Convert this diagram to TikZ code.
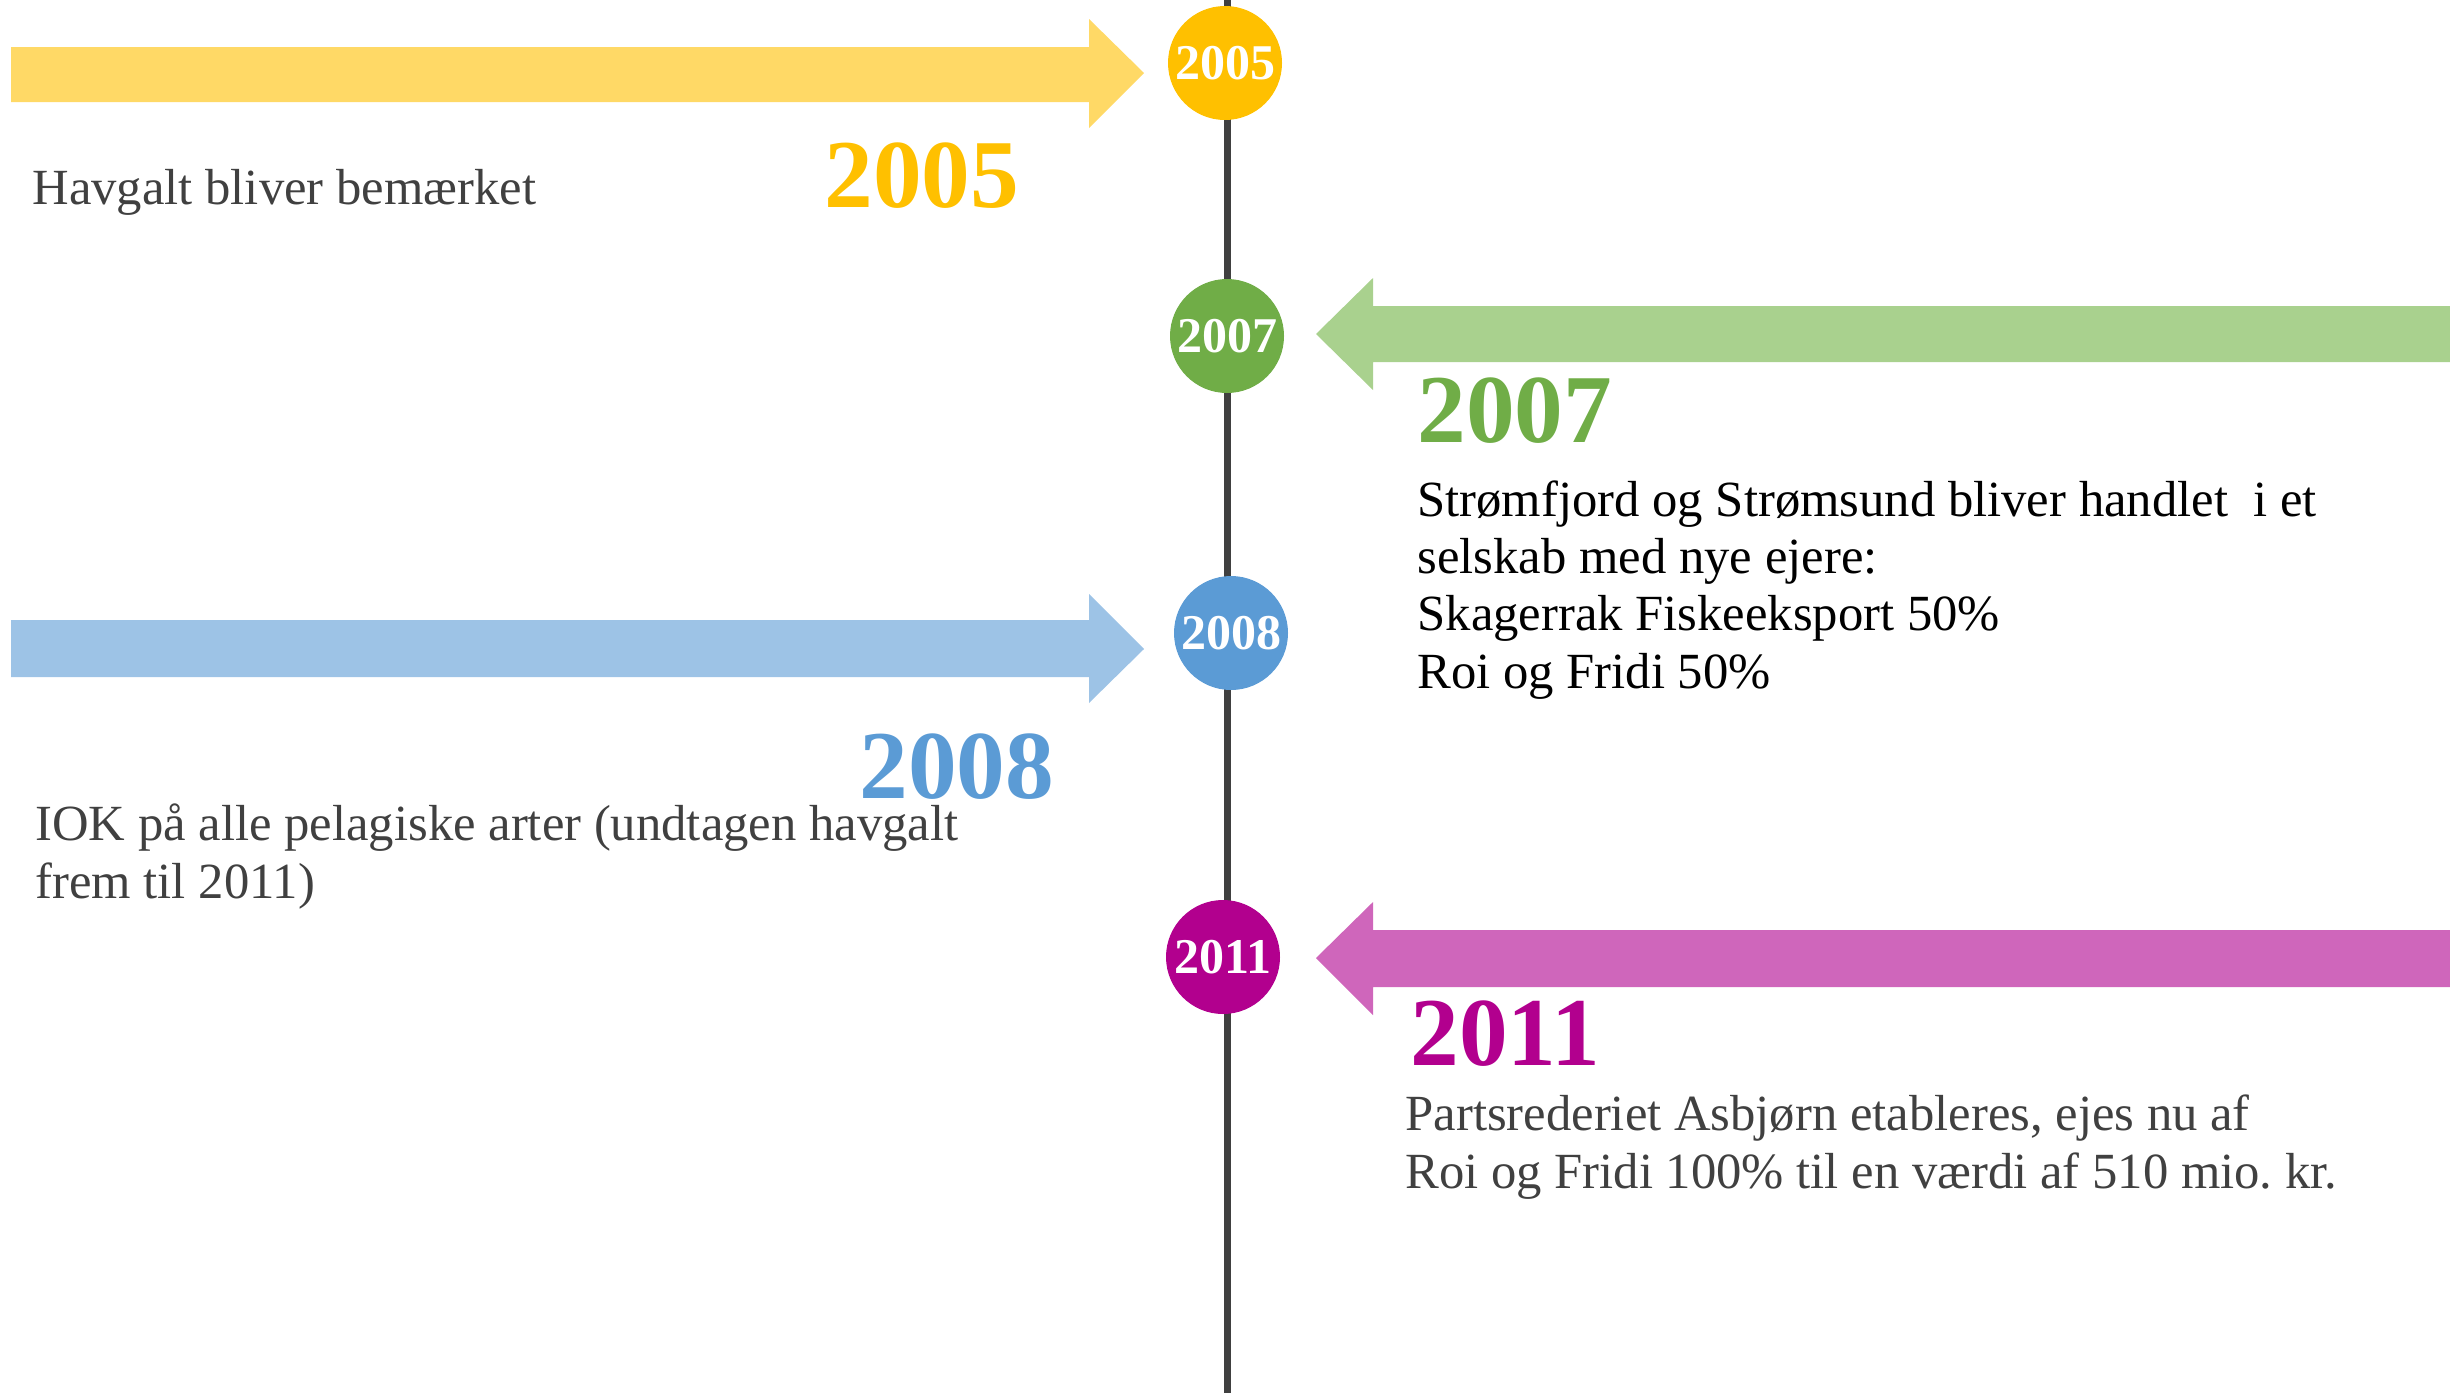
\documentclass[tikz,border=0pt]{standalone}
\usepackage{fontspec}
\setmainfont{Liberation Serif}
\frenchspacing

\definecolor{txtgray}{RGB}{64,64,64}
\definecolor{ylwball}{RGB}{255,192,0}
\definecolor{ylwarrow}{RGB}{255,217,102}
\definecolor{grnball}{RGB}{112,173,71}
\definecolor{grnarrow}{RGB}{169,209,142}
\definecolor{bluball}{RGB}{91,155,213}
\definecolor{bluarrow}{RGB}{157,195,230}
\definecolor{magball}{RGB}{178,0,142}
\definecolor{magarrow}{RGB}{207,102,187}

\tikzset{every picture/.style={line width=0.75pt}}
\tikzset{
  yearball/.style={circle, inner sep=0pt, minimum size=85.5pt, text=white,
    font=\bfseries\fontsize{37.5}{37.5}\selectfont},
  bigyear/.style={anchor=base west, inner sep=0pt,
    font=\bfseries\fontsize{73}{73}\selectfont},
  bodytext/.style={anchor=base west, inner sep=0pt, align=left,
    font=\fontsize{38}{43}\selectfont}
}

\begin{document}
\begin{tikzpicture}[x=0.75pt,y=0.75pt,yscale=-1,xscale=1]
\path[use as bounding box] (0,0) rectangle (2450,1393);

%Straight Lines [timeline]
\coordinate (tltop) at (1227,0);
\coordinate (tlbottom) at (1227,1393);
\draw [color=txtgray, line width=5.25pt] (tltop) -- (tlbottom) ;

%Shape: Right Arrow [2005]
\fill [ylwarrow] (11,47) -- (1089,47) -- (1089,19) -- (1144,73) -- (1089,128) -- (1089,102) -- (11,102) -- cycle ;
%Shape: Left Arrow [2007]
\fill [grnarrow] (2450,306) -- (1373,306) -- (1373,278) -- (1316,334) -- (1373,390) -- (1373,362) -- (2450,362) -- cycle ;
%Shape: Right Arrow [2008]
\fill [bluarrow] (11,620) -- (1089,620) -- (1089,594) -- (1144,649) -- (1089,703) -- (1089,677) -- (11,677) -- cycle ;
%Shape: Left Arrow [2011]
\fill [magarrow] (2450,930) -- (1373,930) -- (1373,902) -- (1316,958) -- (1373,1015) -- (1373,987) -- (2450,987) -- cycle ;

%Shape: Circle
\node [yearball, fill=ylwball] (ball2005) at (1225,63) {2005};
%Shape: Circle
\node [yearball, fill=grnball] (ball2007) at (1227,336) {2007};
%Shape: Circle
\node [yearball, fill=bluball] (ball2008) at (1231,633) {2008};
%Shape: Circle
\node [yearball, fill=magball] (ball2011) at (1223,957) {2011};

% Text Node
\node [bigyear, text=ylwball] (year2005) at (824,207) {2005};
% Text Node
\node [bodytext, text=txtgray] (note2005) at (32,204) {Havgalt bliver bemærket};

% Text Node
\node [bigyear, text=grnball] (year2007) at (1417,442) {2007};
% Text Node (base = last line)
\node [bodytext, text=black] (note2007) at (1417,688) {Strømfjord og Strømsund bliver handlet \ i et\\selskab med nye ejere:\\Skagerrak Fiskeeksport 50\%\\Roi og Fridi 50\%};

% Text Node
\node [bigyear, text=bluball] (year2008) at (859,798) {2008};
% Text Node (base = last line)
\node [bodytext, text=txtgray] (note2008) at (35,898) {IOK på alle pelagiske arter (undtagen havgalt\\frem til 2011)};

% Text Node
\node [bigyear, text=magball] (year2011) at (1410,1065) {2011};
% Text Node (base = last line)
\node [bodytext, text=txtgray] (note2011) at (1405,1188) {Partsrederiet Asbjørn etableres, ejes nu af\\Roi og Fridi 100\% til en værdi af 510 mio. kr.};

\end{tikzpicture}
\end{document}
